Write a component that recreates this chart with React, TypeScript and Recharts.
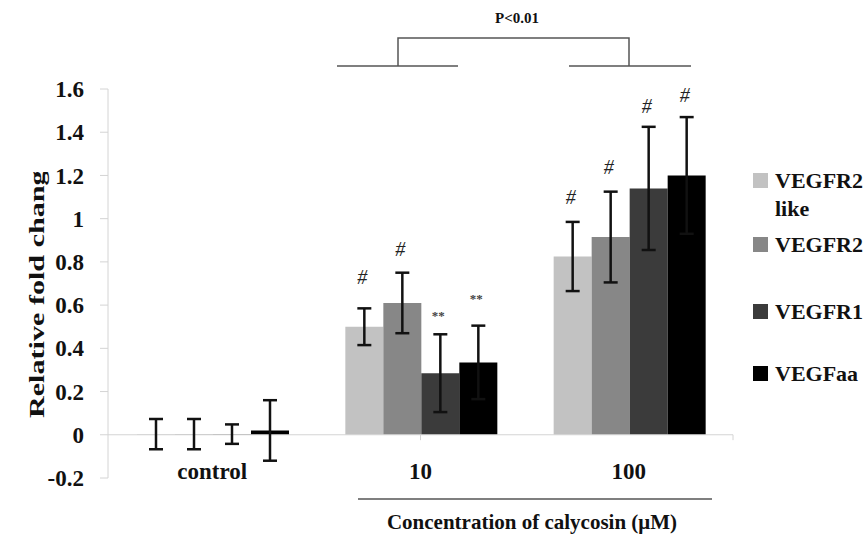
import { BarChart, Bar, XAxis, YAxis, ErrorBar, ReferenceLine, Legend, LabelList } from 'recharts';

const categories = ['control', '10', '100'];
const seriesNames = ['VEGFR2 like', 'VEGFR2', 'VEGFR1', 'VEGFaa'];
const seriesColors = ['#c2c2c2', '#878787', '#3b3b3b', '#000000'];

// control bars sit at ~0 (kept just above 0 so the bar and its error bar are drawn)
const vegfr2LikeValues = [0.003, 0.5, 0.825];
const vegfr2LikeErrors = [0.07, 0.085, 0.16];
const vegfr2Values = [0.003, 0.61, 0.915];
const vegfr2Errors = [0.07, 0.14, 0.21];
const vegfr1Values = [0.003, 0.285, 1.14];
const vegfr1Errors = [0.045, 0.18, 0.285];
const vegfaaValues = [0.02, 0.335, 1.2];
const vegfaaErrors = [0.14, 0.17, 0.27];

// significance marks and the height (in fold-change units) they sit at
const vegfr2LikeMarks = ['', '#', '#'];
const vegfr2LikeMarkLevels = [0, 0.73, 1.1];
const vegfr2Marks = ['', '#', '#'];
const vegfr2MarkLevels = [0, 0.86, 1.24];
const vegfr1Marks = ['', '**', '#'];
const vegfr1MarkLevels = [0, 0.55, 1.52];
const vegfaaMarks = ['', '**', '#'];
const vegfaaMarkLevels = [0, 0.63, 1.57];

const yTicks = [-0.2, 0, 0.2, 0.4, 0.6, 0.8, 1, 1.2, 1.4, 1.6];
const categoryBounds = [1, 2, 3];

const series = [
  { values: vegfr2LikeValues, errors: vegfr2LikeErrors, marks: vegfr2LikeMarks, levels: vegfr2LikeMarkLevels },
  { values: vegfr2Values, errors: vegfr2Errors, marks: vegfr2Marks, levels: vegfr2MarkLevels },
  { values: vegfr1Values, errors: vegfr1Errors, marks: vegfr1Marks, levels: vegfr1MarkLevels },
  { values: vegfaaValues, errors: vegfaaErrors, marks: vegfaaMarks, levels: vegfaaMarkLevels },
].map((s, i) => ({ ...s, key: `s${i}`, name: seriesNames[i], color: seriesColors[i] }));

const data = categories.map((category, i) => {
  const row: Record<string, any> = { category };
  series.forEach(s => {
    row[s.key] = s.values[i];
    row[`${s.key}Err`] = s.errors[i];
  });
  return row;
});

const FONT = '"Liberation Serif", "Times New Roman", serif';
const LEGEND_TOPS = [167, 231, 298, 360];

const makeMark = (s: (typeof series)[number]) => (props: any) => {
  const idx = props.index;
  const mark = s.marks[idx];
  const value = s.values[idx];
  if (!mark || !value) return null;
  const vb = props.viewBox ?? props;
  const x = Number(vb.x);
  const y = Number(vb.y);
  const width = Number(vb.width);
  const h = Number(vb.height);
  const top = h < 0 ? y + h : y;
  const height = Math.abs(h);
  const perUnit = height / value;
  const cy = top + height - s.levels[idx] * perUnit;
  const isStar = mark === '**';
  return (
    <text
      x={x + width / 2 - 2}
      y={cy}
      textAnchor="middle"
      dominantBaseline="central"
      fontFamily={FONT}
      fontStyle={isStar ? 'normal' : 'italic'}
      fontWeight={isStar ? 'bold' : 'normal'}
      fontSize={isStar ? 13 : 20}
      fill={isStar ? '#444' : '#222'}
    >
      {mark}
    </text>
  );
};

const CategoryTick = (props: any) => {
  const { x, y, payload } = props;
  return (
    <text x={x} y={y + 1} textAnchor="middle" fontFamily={FONT} fontWeight="bold" fontSize={23} fill="#111">
      {payload.value}
    </text>
  );
};

const renderLegend = () => (
  <div style={{ position: 'relative', width: 112, height: 534 }}>
    {series.map((s, i) => (
      <div
        key={s.key}
        style={{ position: 'absolute', top: LEGEND_TOPS[i], left: 0, display: 'flex', alignItems: 'flex-start' }}
      >
        <div style={{ width: 15, height: 15, background: s.color, marginTop: 6, flex: 'none' }} />
        <div
          style={{
            marginLeft: 7,
            width: 90,
            fontFamily: FONT,
            fontWeight: 'bold',
            fontSize: 22,
            lineHeight: '28px',
            color: '#111',
          }}
        >
          {s.name}
        </div>
      </div>
    ))}
  </div>
);

export default function App() {
  return (
    <div style={{ position: 'absolute', left: 0, top: 0, width: 865, height: 534, background: '#fff' }}>
      <BarChart
        width={865}
        height={534}
        data={data}
        margin={{ top: 89, right: 132, bottom: 26, left: 0 }}
        barCategoryGap={29}
        barGap={0}
      >
        <XAxis
          dataKey="category"
          height={30}
          axisLine={false}
          tickLine={false}
          tickSize={0}
          tickMargin={0}
          tick={<CategoryTick />}
          interval={0}
        />
        <XAxis xAxisId="bounds" type="number" domain={[0, 3]} hide />
        <YAxis
          width={108}
          domain={[-0.2, 1.6]}
          ticks={yTicks}
          interval={0}
          axisLine={{ stroke: '#d4d4d4' }}
          tickLine={{ stroke: '#d4d4d4' }}
          tickSize={8}
          tickMargin={16}
          tick={{ fontFamily: FONT, fontWeight: 'bold', fontSize: 23, fill: '#111' }}
        />
        <ReferenceLine y={0} stroke="#d4d4d4" strokeWidth={1} />
        {categoryBounds.map(b => (
          <ReferenceLine
            key={b}
            xAxisId="bounds"
            stroke="#d4d4d4"
            segment={[{ x: b, y: 0 }, { x: b, y: -0.025 }]}
          />
        ))}
        {series.map(s => (
          <Bar key={s.key} dataKey={s.key} name={s.name} fill={s.color} isAnimationActive={false}>
            <ErrorBar dataKey={`${s.key}Err`} width={7} strokeWidth={2.5} stroke="#111" direction="y" />
            <LabelList dataKey={s.key} content={makeMark(s)} />
          </Bar>
        ))}
        <Legend
          layout="vertical"
          align="center"
          verticalAlign="middle"
          content={renderLegend}
          wrapperStyle={{ position: 'absolute', left: 753, top: 0, width: 112, height: 534 }}
        />
      </BarChart>

      <svg
        width={865}
        height={534}
        style={{ position: 'absolute', left: 0, top: 0, pointerEvents: 'none' }}
      >
        <defs>
          <clipPath id="ylabel-clip">
            <rect x={0} y={172} width={80} height={300} />
          </clipPath>
        </defs>
        <text
          x={517}
          y={18}
          textAnchor="middle"
          dominantBaseline="central"
          fontFamily={FONT}
          fontWeight="bold"
          fontSize={15}
          fill="#111"
        >
          P&lt;0.01
        </text>
        <polyline points="398,66 398,38 629,38 629,66" fill="none" stroke="#555" strokeWidth={1.5} />
        <line x1={337} y1={66} x2={458} y2={66} stroke="#555" strokeWidth={1.5} />
        <line x1={569} y1={66} x2={691} y2={66} stroke="#555" strokeWidth={1.5} />
        <line x1={358} y1={499} x2={712} y2={499} stroke="#555" strokeWidth={1.5} />
        <text
          x={532}
          y={522}
          textAnchor="middle"
          dominantBaseline="central"
          fontFamily={FONT}
          fontWeight="bold"
          fontSize={21}
          fill="#111"
        >
          Concentration of calycosin (μM)
        </text>
        <g clipPath="url(#ylabel-clip)">
          <text
            transform="translate(36, 418) rotate(-90)"
            x={0}
            y={0}
            textLength={261}
            lengthAdjust="spacingAndGlyphs"
            dominantBaseline="central"
            fontFamily={FONT}
            fontWeight="bold"
            fontSize={22}
            fill="#111"
          >
            Relative fold change
          </text>
        </g>
      </svg>
    </div>
  );
}
